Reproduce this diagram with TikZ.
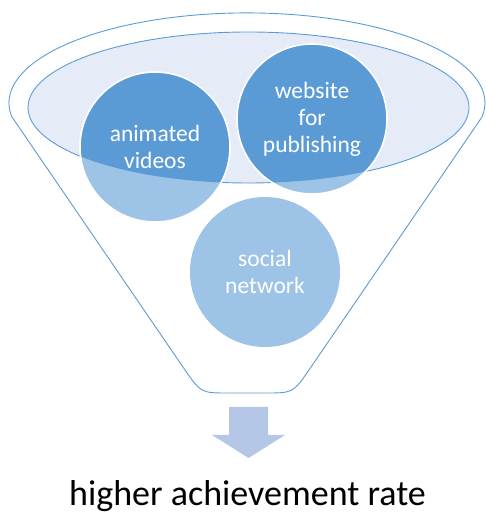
\documentclass[tikz,border=0pt]{standalone}
\usepackage{fontspec}
\setmainfont{Carlito}
\definecolor{dkblue}{HTML}{5B9BD5}
\definecolor{ltblue}{HTML}{9DC3E6}
\definecolor{ellfill}{HTML}{E5ECF7}
\definecolor{arrowblue}{HTML}{B4C7E7}
\tikzset{
  funnelline/.style={draw=dkblue, line width=0.9bp},
  bubble/.style={circle, minimum size=150bp, inner sep=0pt, fill=ltblue,
    text=white, align=center, font=\fontsize{23.5bp}{27bp}\selectfont},
  topbubble/.style={bubble, draw=white, line width=1.6bp,
    path picture={\fill[dkblue] (ec) ellipse[x radius=220.5bp, y radius=75.5bp];}},
}
\begin{document}
\begin{tikzpicture}[x=1bp,y=1bp]
\useasboundingbox (0,0) rectangle (486,514);
% funnel outline
\draw[funnelline] (12,397) -- (185,144) .. controls (201,121) .. (229,121)
  -- (265,121) .. controls (293,121) .. (309,144) -- (482,397)
  arc[start angle=-9, end angle=189, x radius=238bp, y radius=90bp] -- cycle;
% inner ellipse
\coordinate (ec) at (248.5,406.5);
\draw[funnelline, fill=ellfill] (ec) ellipse[x radius=220.5bp, y radius=75.5bp];
% bubbles
\node[bubble] (sn) at (265,242) {social\\network};
\node[topbubble] (av) at (155,367) {animated\\videos};
\node[topbubble] (wp) at (312,395) {website\\for\\publishing};
% arrow
\fill[arrowblue] (229,107) -- (268,107) -- (268,79) -- (285,79) -- (248.5,56)
  -- (212,79) -- (229,79) -- cycle;
% result text
\node[anchor=base, font=\fontsize{36bp}{40bp}\selectfont, inner sep=0pt] (res) at (247.5,8) {higher achievement rate};
\end{tikzpicture}
\end{document}
